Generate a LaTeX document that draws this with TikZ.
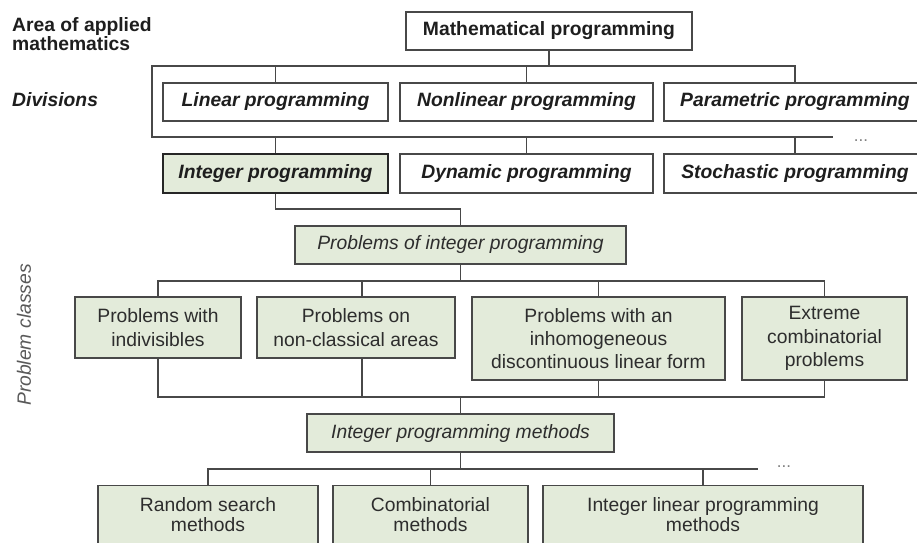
\documentclass[tikz,border=0pt]{standalone}
\usepackage{fontspec}
\setmainfont{Liberation Sans}
\usetikzlibrary{calc}
\definecolor{gfill}{RGB}{227,235,218}
\definecolor{lcol}{RGB}{72,72,72}
\definecolor{tcol}{RGB}{30,30,30}
\definecolor{gtxt}{RGB}{45,45,45}
\begin{document}
\begin{tikzpicture}[x=1pt,y=-1pt,
  ln/.style={draw=lcol, line width=1.4pt},
  divbox/.style={draw=lcol, line width=1.4pt, fill=white, inner sep=0pt,
    minimum height=38, text=tcol, font=\fontsize{19.3}{23.3}\selectfont\bfseries\itshape},
  gbox/.style={draw=lcol, line width=1.4pt, fill=gfill, inner sep=0pt, align=center,
    text=gtxt, font=\fontsize{19.3}{23.3}\selectfont},
  dots/.style={text=black!50, font=\fontsize{17}{17}\selectfont, inner sep=0pt},
  sidelab/.style={inner sep=0pt, text=tcol}
]
\path[use as bounding box] (0,0) rectangle (917,542);
\clip (0,0) rectangle (917,542);

% side labels
\node[sidelab, anchor=north west, align=left, font=\fontsize{19.3}{19.5}\selectfont\bfseries] (area) at (12,17) {Area of applied\\mathematics};
\node[sidelab, anchor=base west, font=\fontsize{19.3}{23}\selectfont\bfseries\itshape] (div) at (12,106) {Divisions};
\node[sidelab, rotate=90, text=black!65, font=\fontsize{19.3}{23}\selectfont\itshape] (pc) at (24,335) {Problem classes};

% top
\node[divbox, minimum width=286, font=\fontsize{19.3}{23.3}\selectfont\bfseries] (mp) at (549,31) {Mathematical programming};
\node[divbox, minimum width=225] (lin) at (275.5,102) {Linear programming};
\node[divbox, minimum width=253] (nl) at (526.5,102) {Nonlinear programming};
\node[divbox, minimum width=262] (par) at (795,102) {Parametric programming};
\node[divbox, minimum width=225, minimum height=39, fill=gfill, draw=black!85, line width=2.6pt] (ip) at (275.5,173.5) {Integer programming};
\node[divbox, minimum width=253, minimum height=39] (dyn) at (526.5,173.5) {Dynamic programming};
\node[divbox, minimum width=262, minimum height=39] (sto) at (795,173.5) {Stochastic programming};

\coordinate (d1) at (152,66);
\coordinate (d3) at (152,137);
\coordinate (d4) at (833,137);
\draw[ln] (mp.south) -- (mp.south |- d1);
\draw[ln] (par.north) -- (par.north |- d1) -- (d1) -- (d3) -- (d4);
\draw[ln] (lin.north) -- (lin.north |- d1);
\draw[ln] (nl.north) -- (nl.north |- d1);
\draw[ln] (ip.north) -- (ip.north |- d3);
\draw[ln] (dyn.north) -- (dyn.north |- d3);
\draw[ln] (sto.north) -- (sto.north |- d3);
\node[dots] (dots1) at (861,141) {...};

% problems
\node[gbox, minimum width=331, minimum height=38, font=\fontsize{19.3}{23.3}\selectfont\itshape] (pi) at (460.5,245) {Problems of integer programming};
\coordinate (j1) at (0,209);
\draw[ln] (ip.south) -- (ip.south |- j1) -| (pi.north);

\node[gbox, minimum width=166, minimum height=61] (b1) at (158,327.5) {Problems with\\indivisibles};
\node[gbox, minimum width=198, minimum height=61] (b2) at (356,327.5) {Problems on\\non-classical areas};
\node[gbox, minimum width=253, minimum height=83] (b3) at (598.5,338.5) {Problems with an\\inhomogeneous\\discontinuous linear form};
\node[gbox, minimum width=165, minimum height=83] (b4) at (824.5,338.5) {Extreme\\combinatorial\\problems};

\coordinate (c1) at (0,281);
\coordinate (c2) at (0,397);
\draw[ln] (pi.south) -- (pi.south |- c1);
\draw[ln] (b1.north) -- (b1.north |- c1) -- (b4.north |- c1) -- (b4.north);
\draw[ln] ([xshift=6pt]b2.north) -- ([xshift=6pt]b2.north |- c1);
\draw[ln] (b3.north) -- (b3.north |- c1);
\draw[ln] (b1.south) -- (b1.south |- c2) -- (b4.south |- c2) -- (b4.south);
\draw[ln] ([xshift=6pt]b2.south) -- ([xshift=6pt]b2.south |- c2);
\draw[ln] (b3.south) -- (b3.south |- c2);

% methods
\node[gbox, minimum width=307, minimum height=38, font=\fontsize{19.3}{23.3}\selectfont\itshape] (meth) at (460.5,433) {Integer programming methods};
\draw[ln] (meth.north |- c2) -- (meth.north);
\coordinate (c3) at (0,469);
\coordinate (e3) at (758,469);
\draw[ln] (meth.south) -- (meth.south |- c3);

\node[gbox, anchor=north, minimum width=220, minimum height=100] (rs) at (208,485) {};
\node[gbox, anchor=north, minimum width=195, minimum height=100] (cm) at (430.5,485) {};
\node[gbox, anchor=north, minimum width=320, minimum height=100] (ilp) at (703,485) {};
\node[gbox, draw=none, fill=none, anchor=north, font=\fontsize{19.3}{20}\selectfont] (rst) at ([yshift=-11.5pt]rs.north) {Random search\\methods};
\node[gbox, draw=none, fill=none, anchor=north, font=\fontsize{19.3}{20}\selectfont] (cmt) at ([yshift=-11.5pt]cm.north) {Combinatorial\\methods};
\node[gbox, draw=none, fill=none, anchor=north, font=\fontsize{19.3}{20}\selectfont] (ilpt) at ([yshift=-11.5pt]ilp.north) {Integer linear programming\\methods};

\draw[ln] (rs.north) -- (rs.north |- c3) -- (e3);
\draw[ln] (cm.north) -- (cm.north |- c3);
\draw[ln] (ilp.north) -- (ilp.north |- c3);
\node[dots] (dots2) at (784,467) {...};
\end{tikzpicture}
\end{document}
